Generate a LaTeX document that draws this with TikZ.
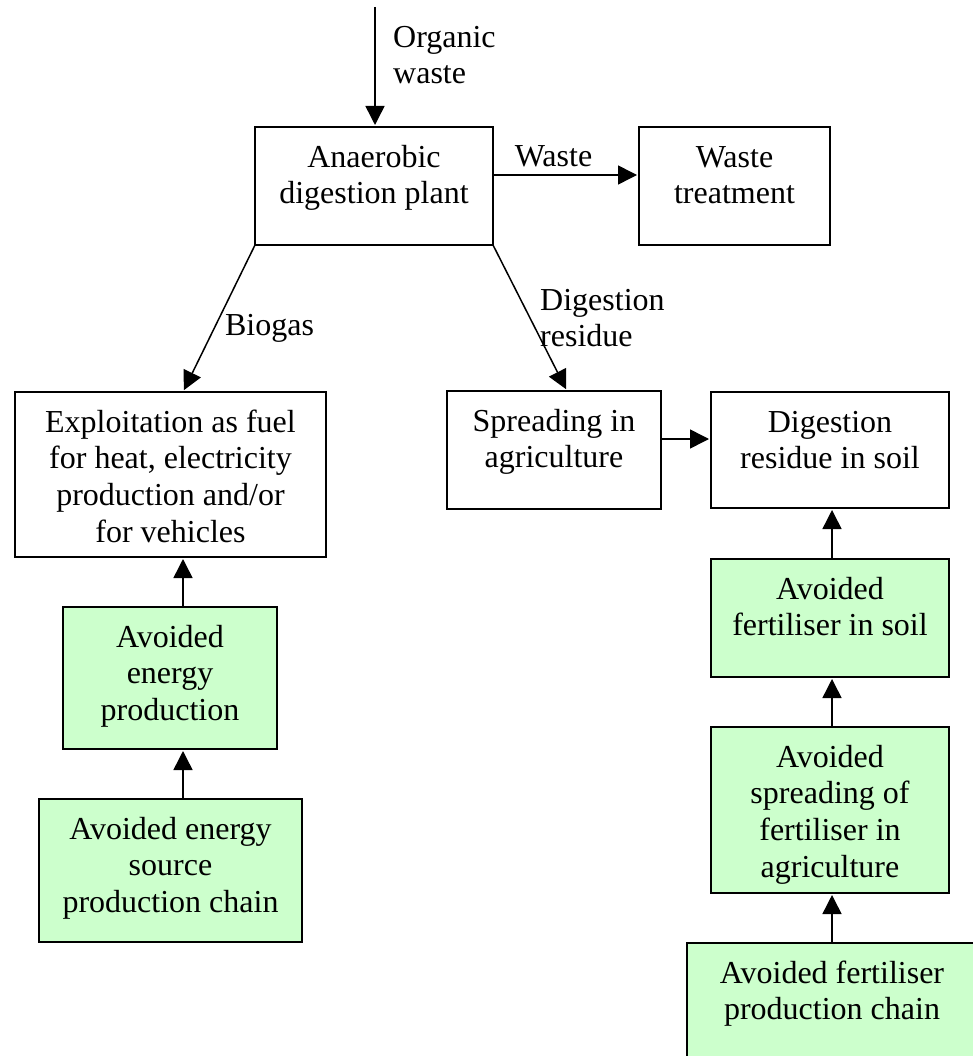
\documentclass[tikz,border=0pt]{standalone}
\usepackage{fontspec}
\setmainfont{Liberation Serif}
\usetikzlibrary{arrows.meta}
\definecolor{avoidgreen}{HTML}{CCFFCC}
\tikzset{
  boxframe/.style={draw=black, line width=1.5pt, inner sep=0pt, outer sep=0pt},
  plainbox/.style={boxframe, fill=white},
  greenbox/.style={boxframe, fill=avoidgreen},
  boxtext/.style={anchor=north, inner sep=0pt, align=center, font=\fontsize{32}{36.6}\selectfont},
  flowlabel/.style={inner sep=0pt, align=left, font=\fontsize{32}{36.6}\selectfont},
  flow/.style={line width=1.5pt, -{Triangle[length=19pt,width=19pt]}, shorten >=2pt},
}
% \flowbox{name}{x1}{y1}{x2}{y2}{style}{text}: framed box with its text near the top
\newcommand{\flowbox}[7]{%
  \node[#6, minimum width={(#4-#2)*1pt}, minimum height={(#5-#3)*1pt}] (#1) at ({(#2+#4)/2},{(#3+#5)/2}) {};
  \node[boxtext] (#1-text) at ({(#2+#4)/2},{#3+14.4}) {\strut #7};
}
\begin{document}
\begin{tikzpicture}[x=1pt,y=-1pt]
\useasboundingbox (0,0) rectangle (972,1056);

% process boxes
\flowbox{ad}{255}{127}{493}{245}{plainbox}{Anaerobic\\digestion plant}
\flowbox{wt}{639}{127}{830}{245}{plainbox}{Waste\\treatment}
\flowbox{exp}{15}{392}{326}{557}{plainbox}{Exploitation as fuel\\for heat, electricity\\production and/or\\for vehicles}
\flowbox{spr}{447}{391}{661}{509}{plainbox}{Spreading in\\agriculture}
\flowbox{drs}{711}{392}{949}{508}{plainbox}{Digestion\\residue in soil}

% avoided processes
\flowbox{afs}{711}{559}{949}{677}{greenbox}{Avoided\\fertiliser in soil}
\flowbox{asp}{711}{727}{949}{893}{greenbox}{Avoided\\spreading of\\fertiliser in\\agriculture}
\flowbox{afp}{687}{943}{977}{1061}{greenbox}{Avoided fertiliser\\production chain}
\flowbox{aep}{63}{607}{277}{749}{greenbox}{Avoided\\energy\\production}
\flowbox{aes}{39}{799}{302}{942}{greenbox}{Avoided energy\\source\\production chain}

% input
\coordinate (src) at (375,7);
\draw[flow] (src) -- (src |- ad.north);

% flows out of the plant
\draw[flow] ([yshift=11pt]ad.east) -- ([yshift=11pt]ad.east -| wt.west);
\draw[flow] (ad.south west) -- ([xshift=12.5pt]exp.north);
\draw[flow] (ad.south east) -- ([xshift=13pt]spr.north);
\draw[flow] ([yshift=11pt]spr.east) -- ([yshift=11pt]spr.east -| drs.west);

% avoided chains
\draw[flow] ([xshift=2pt]afs.north) -- ([xshift=2pt]afs.north |- drs.south);
\draw[flow] ([xshift=2pt]asp.north) -- ([xshift=2pt]asp.north |- afs.south);
\draw[flow] (afp.north) -- (afp.north |- asp.south);
\draw[flow] ([xshift=13pt]aep.north) -- ([xshift=13pt]aep.north |- exp.south);
\draw[flow] ([xshift=12.5pt]aes.north) -- ([xshift=12.5pt]aes.north |- aep.south);

% flow labels
\node[flowlabel, anchor=north west] (lorg) at (393,21.4) {\strut Organic\\waste};
\node[flowlabel, anchor=base] (lwaste) at (553.5,167) {Waste};
\node[flowlabel, anchor=base] (lbio) at (269.5,335) {Biogas};
\node[flowlabel, anchor=north west] (ldig) at (540,284.4) {\strut Digestion\\residue};
\end{tikzpicture}
\end{document}
